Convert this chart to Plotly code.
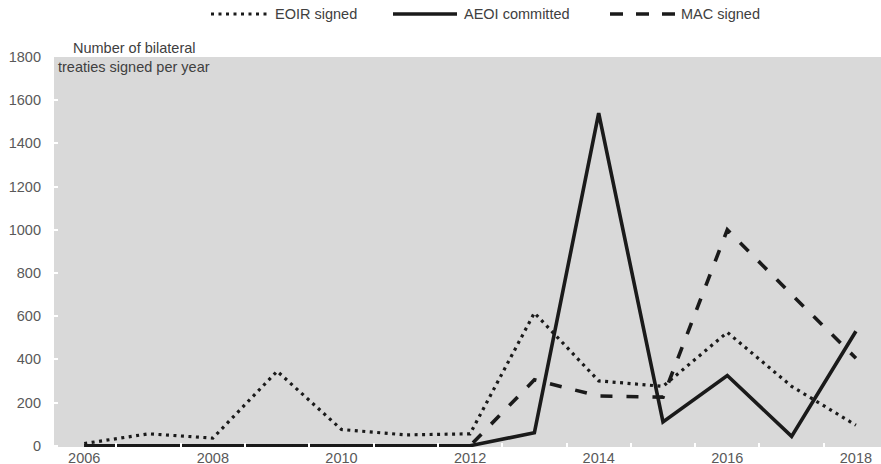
import plotly.graph_objects as go

years = list(range(2006, 2019))
eoir_signed = [10, 55, 35, 345, 75, 50, 55, 615, 300, 275, 525, 275, 95]
aeoi_committed = [0, 0, 0, 0, 0, 0, 0, 60, 1540, 110, 325, 43, 530]
mac_signed = [0, 0, 0, 0, 0, 0, 0, 305, 230, 225, 1000, 700, 405]
x_tick_labels = ["2006", "2008", "2010", "2012", "2014", "2016", "2018"]
y_tick_values = list(range(0, 2000, 200))

LINE = "#1a1a1a"
FONT = "Arial, Liberation Sans, sans-serif"

fig = go.Figure()
fig.add_trace(go.Scatter(x=years, y=eoir_signed, mode="lines", name="EOIR signed",
                         line=dict(color=LINE, width=3.2, dash="3px,4.5px")))
fig.add_trace(go.Scatter(x=years, y=aeoi_committed, mode="lines", name="AEOI committed",
                         line=dict(color=LINE, width=3.6)))
fig.add_trace(go.Scatter(x=years, y=mac_signed, mode="lines", name="MAC signed",
                         line=dict(color=LINE, width=3.6, dash="12px,14px")))

fig.update_layout(
    width=881, height=464,
    margin=dict(l=54, r=0, t=57, b=17, autoexpand=False),
    paper_bgcolor="white", plot_bgcolor="#d9d9d9",
    showlegend=False,
    font=dict(family=FONT, size=14.5, color="#595959"),
)
fig.update_xaxes(
    range=[2005.53, 2018.39], automargin=False,
    tickvals=[int(t) for t in x_tick_labels], ticktext=x_tick_labels,
    ticks="", showgrid=False, zeroline=False, showline=False,
    ticklabelstandoff=0,
    minor=dict(tick0=2005.5, dtick=1, ticks="inside", ticklen=4,
               tickcolor="white", tickwidth=1.5, showgrid=False),
)
fig.update_yaxes(
    range=[-6, 1800], tickvals=y_tick_values, automargin=False,
    ticks="inside", ticklen=4, tickcolor="white", tickwidth=1.5,
    showgrid=False, zeroline=False, showline=False,
    ticklabelstandoff=12,
)

# Axis title annotation (top-left, inside plot)
fig.add_annotation(xref="paper", yref="paper", x=(134 - 54) / 827, y=(447 - 48) / 390,
                   text="Number of bilateral", showarrow=False, xanchor="center",
                   yanchor="middle", font=dict(size=14.5, color="#404040"))
fig.add_annotation(xref="paper", yref="paper", x=(134 - 54) / 827, y=(447 - 67) / 390,
                   text="treaties signed per year", showarrow=False, xanchor="center",
                   yanchor="middle", font=dict(size=14.5, color="#404040"))

# Legend drawn at top
def px_x(p):
    return (p - 54) / 827

ly = (447 - 14) / 390
legend_items = [
    ("EOIR signed", 211, 270, 273, dict(width=3.2, dash="3px,4.5px")),
    ("AEOI committed", 393, 457, 462, dict(width=3.6)),
    ("MAC signed", 610, 676, 679, dict(width=3.6, dash="13px,13px")),
]
for label, x0, x1, tx, style in legend_items:
    line = dict(color=LINE, **style)
    fig.add_shape(type="line", xref="paper", yref="paper",
                  x0=px_x(x0), x1=px_x(x1), y0=ly, y1=ly, line=line)
    fig.add_annotation(xref="paper", yref="paper", x=px_x(tx), y=ly, text=label,
                       showarrow=False, xanchor="left", yanchor="middle",
                       font=dict(size=14.5, color="#404040"))

fig.write_html("out.html", config={"displayModeBar": False},
               post_script="document.body.style.margin='0';")
